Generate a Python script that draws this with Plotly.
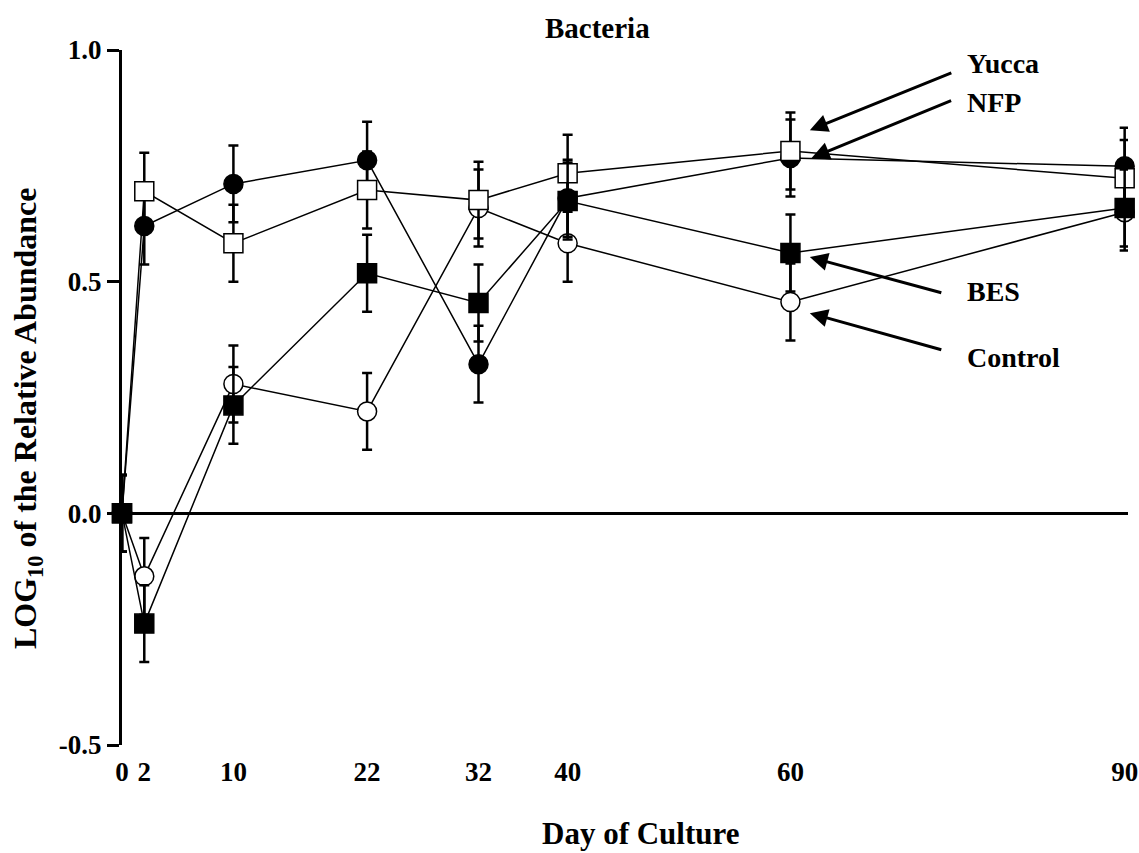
import plotly.graph_objects as go

# Sampling days
days = [0, 2, 10, 22, 32, 40, 60, 90]

# LOG10 relative abundance of bacteria per treatment
control = [0.0, -0.136, 0.279, 0.220, 0.659, 0.583, 0.456, 0.650]
nfp = [0.0, 0.620, 0.711, 0.762, 0.322, 0.680, 0.767, 0.749]
yucca = [0.0, 0.695, 0.583, 0.698, 0.676, 0.734, 0.782, 0.723]
bes = [0.0, -0.238, 0.233, 0.518, 0.454, 0.674, 0.562, 0.659]

# Standard errors
control_se = [0.083, 0.083, 0.083, 0.083, 0.083, 0.083, 0.083, 0.083]
nfp_se = [0.083, 0.083, 0.083, 0.083, 0.083, 0.083, 0.083, 0.083]
yucca_se = [0.083, 0.083, 0.083, 0.083, 0.083, 0.083, 0.083, 0.083]
bes_se = [0.083, 0.083, 0.083, 0.083, 0.083, 0.083, 0.083, 0.083]

y_ticks = [-0.5, 0.0, 0.5, 1.0]
y_tick_text = ["-0.5", "0.0", "0.5", "1.0"]

FONT = "Liberation Serif"

# (name, values, errors, symbol, fill) in drawing order
series = [
    ("Control", control, control_se, "circle", "white"),
    ("NFP", nfp, nfp_se, "circle", "black"),
    ("Yucca", yucca, yucca_se, "square", "white"),
    ("BES", bes, bes_se, "square", "black"),
]

fig = go.Figure()
for name, vals, errs, sym, fill in series:
    fig.add_trace(go.Scatter(
        x=days, y=vals, name=name, mode="lines+markers",
        line=dict(color="black", width=1.5),
        marker=dict(symbol=sym, size=19, color=fill,
                    line=dict(color="black", width=1.5)),
        error_y=dict(type="data", array=errs, visible=True,
                     color="black", thickness=2.5, width=5),
        cliponaxis=False,
        showlegend=False,
    ))

# Arrow callouts (head position in data units, tail offset in pixels)
callouts = [
    ("Yucca", 61.74, 0.827, 143, -58, 0.981),
    ("NFP", 61.9, 0.767, 141, -58, 0.925),
    ("BES", 61.74, 0.553, 133, 36, 0.652),
    ("Control", 61.74, 0.432, 133, 37, 0.558),
]
annotations = []
for label, hx, hy, ax, ay, ty in callouts:
    annotations.append(dict(
        x=hx, y=hy, xref="x", yref="y", ax=ax, ay=ay, text="",
        showarrow=True, arrowhead=2, arrowsize=1.2, arrowwidth=3,
        arrowcolor="black", standoff=0,
    ))
    annotations.append(dict(
        x=0.838, y=ty, xref="paper", yref="paper", text=f"<b>{label}</b>",
        showarrow=False, xanchor="left", yanchor="middle",
        font=dict(family=FONT, size=28, color="black"),
    ))

annotations += [
    dict(x=0.473, y=1.0317, xref="paper", yref="paper", text="<b>Bacteria</b>",
         showarrow=False, xanchor="center", yanchor="middle",
         font=dict(family=FONT, size=29, color="black")),
    dict(x=0.515, y=-0.128, xref="paper", yref="paper", text="<b>Day of Culture</b>",
         showarrow=False, xanchor="center", yanchor="middle",
         font=dict(family=FONT, size=31, color="black")),
    dict(x=-0.0944, y=0.4705, xref="paper", yref="paper",
         text="<b>LOG<sub>10</sub> of the Relative Abundance</b>",
         showarrow=False, xanchor="center", yanchor="middle", textangle=-90,
         font=dict(family=FONT, size=32, color="black")),
]

fig.update_layout(
    width=1139, height=853,
    margin=dict(l=122, r=11, t=50, b=108),
    paper_bgcolor="white", plot_bgcolor="white",
    annotations=annotations,
    xaxis=dict(
        range=[0, 90.3], tickmode="array", tickvals=days,
        ticktext=[f"<b>{d}</b>" for d in days],
        showgrid=False, zeroline=False, showline=False, ticks="",
        tickfont=dict(family=FONT, size=27, color="black"),
        ticklabelstandoff=8, automargin=False,
    ),
    yaxis=dict(
        range=[-0.5, 1.0], tickmode="array", tickvals=y_ticks,
        ticktext=[f"<b>{t}</b>" for t in y_tick_text],
        showgrid=False, showline=True, linecolor="black", linewidth=3,
        ticks="outside", ticklen=12, tickwidth=3, tickcolor="black",
        zeroline=True, zerolinecolor="black", zerolinewidth=3,
        tickfont=dict(family=FONT, size=27, color="black"),
        automargin=False,
    ),
)

fig.write_html("out.html")
